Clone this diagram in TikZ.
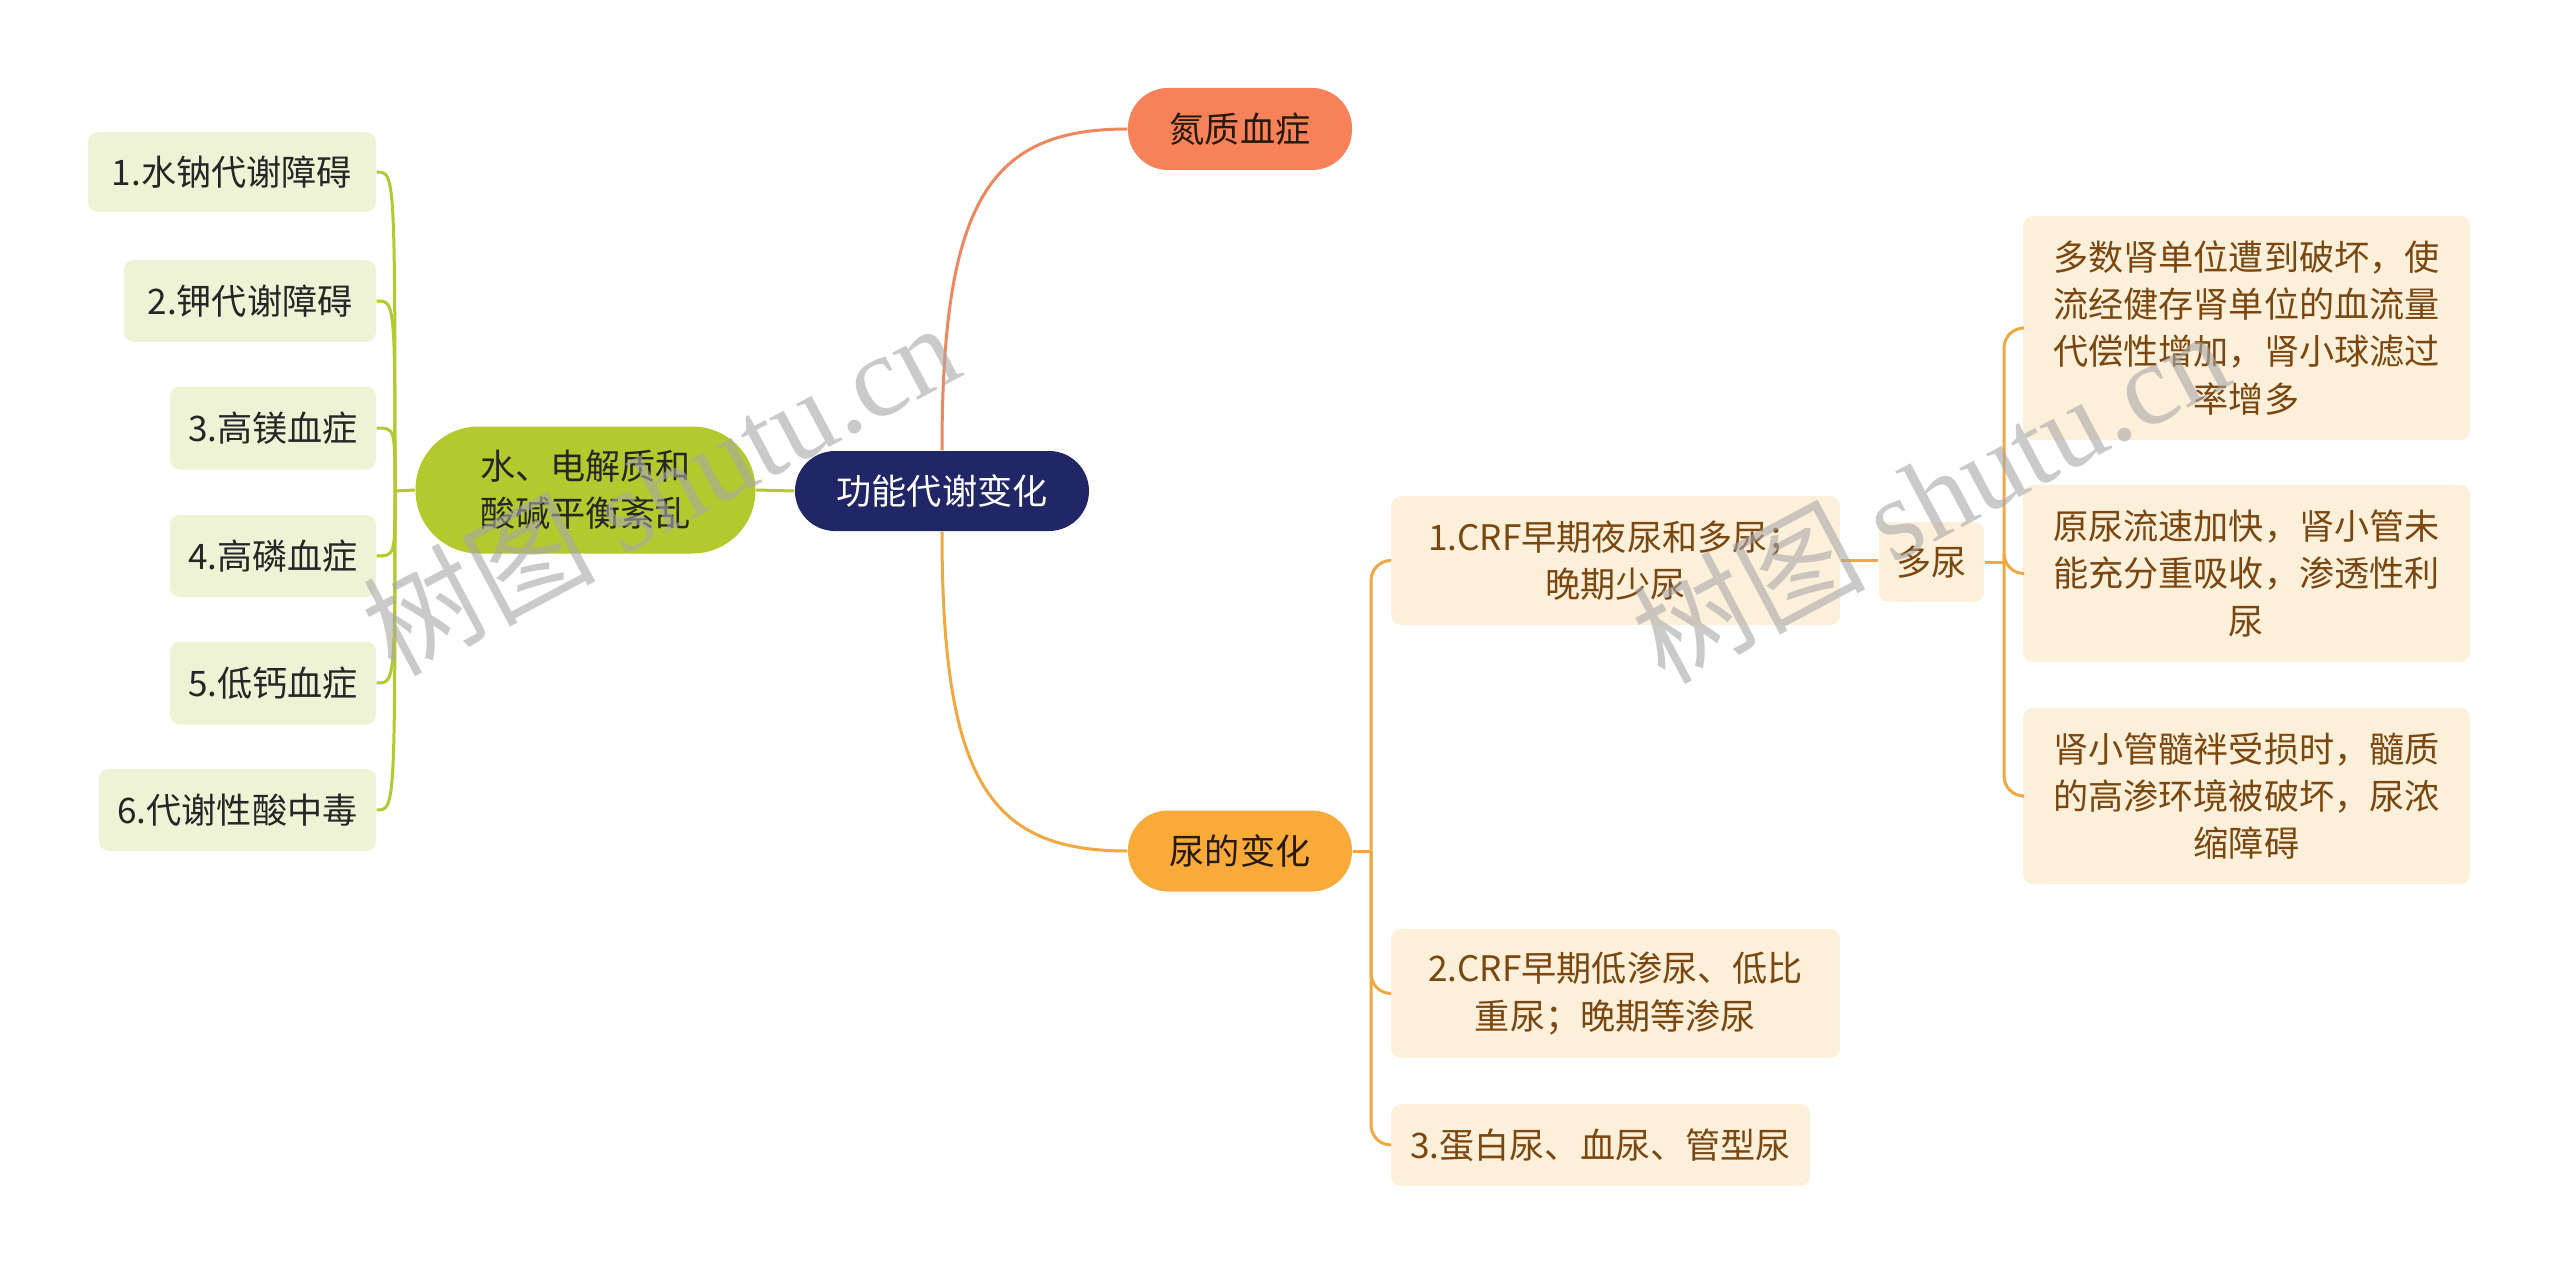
\documentclass[tikz,border=0pt]{standalone}
\usepackage{fontspec}
\setmainfont{Noto Sans CJK SC}
\newfontfamily\wmserif{Liberation Serif}
\usetikzlibrary{calc}
\definecolor{rootc}{HTML}{212766}
\definecolor{nzc}{HTML}{F7825A}
\definecolor{nbc}{HTML}{F9AA38}
\definecolor{grc}{HTML}{B4C92D}
\definecolor{lgc}{HTML}{EEF3D6}
\definecolor{crc}{HTML}{FDF0DA}
\definecolor{brc}{HTML}{7A4710}
\definecolor{obl}{HTML}{F0A940}
\definecolor{onl}{HTML}{EE875E}
\definecolor{wmc}{HTML}{A8A8A8}
\tikzset{
  base/.style={draw=none, inner sep=0pt, align=center, font=\fontsize{10}{13.4}\selectfont},
  pill/.style={base, rounded corners=4mm, minimum height=8mm},
  leafg/.style={base, fill=lgc, rounded corners=1mm, text=black!85, minimum height=8.2mm},
  leafc/.style={base, fill=crc, rounded corners=1mm, text=brc},
  gline/.style={draw=grc, line width=0.3mm},
  oline/.style={draw=obl, line width=0.3mm, rounded corners=2mm},
  nline/.style={draw=onl, line width=0.3mm},
  wm/.style={text=wmc, opacity=0.6, rotate=28, inner sep=0pt}
}
\begin{document}
\begin{tikzpicture}[x=0.1mm, y=-0.1mm]
\useasboundingbox (0,0) rectangle (2560,1272);
\fill[white] (0,0) rectangle (2560,1272);

% central
\node[pill, fill=rootc, text=white, minimum width=29.4mm] (root) at (942,491) {功能代谢变化};
\node[pill, fill=nzc, text=black!80!brown, minimum width=22.4mm, minimum height=8.2mm] (nz) at (1240,129) {氮质血症};
\node[pill, fill=nbc, text=black!80!brown, minimum width=22.4mm, minimum height=8.1mm] (nb) at (1240,851) {尿的变化};
\node[base, fill=grc, rounded corners=6.3mm, minimum width=34mm, minimum height=12.7mm, text=black!85] (gr) at (585.5,490) {水、电解质和\\酸碱平衡紊乱};

% left leaves
\node[leafg, minimum width=28.8mm, minimum height=8mm] (L1) at (232,172) {1.水钠代谢障碍};
\node[leafg, minimum width=25.2mm] (L2) at (250,301) {2.钾代谢障碍};
\node[leafg, minimum width=20.6mm, minimum height=8.3mm] (L3) at (273,428) {3.高镁血症};
\node[leafg, minimum width=20.6mm] (L4) at (273,556) {4.高磷血症};
\node[leafg, minimum width=20.6mm, minimum height=8.3mm] (L5) at (273,683) {5.低钙血症};
\node[leafg, minimum width=27.7mm] (L6) at (237.5,810) {6.代谢性酸中毒};

% right side
\node[leafc, minimum width=44.9mm, minimum height=12.9mm] (c1) at (1615.5,560.5) {1.CRF早期夜尿和多尿；\\晚期少尿};
\node[leafc, minimum width=44.9mm, minimum height=12.9mm] (c2) at (1615.5,993.5) {2.CRF早期低渗尿、低比\\重尿；晚期等渗尿};
\node[leafc, minimum width=41.9mm, minimum height=8.2mm] (c3) at (1600.5,1145) {3.蛋白尿、血尿、管型尿};
\node[leafc, minimum width=10.5mm, minimum height=8mm] (dn) at (1931.5,562) {多尿};
\node[leafc, minimum width=44.7mm, minimum height=22.4mm] (dA) at (2246.5,328) {多数肾单位遭到破坏，使\\流经健存肾单位的血流量\\代偿性增加，肾小球滤过\\率增多};
\node[leafc, minimum width=44.7mm, minimum height=17.7mm] (dB) at (2246.5,573.5) {原尿流速加快，肾小管未\\能充分重吸收，渗透性利\\尿};
\node[leafc, minimum width=44.7mm, minimum height=17.6mm] (dC) at (2246.5,796) {肾小管髓袢受损时，髓质\\的高渗环境被破坏，尿浓\\缩障碍};

% connectors
\draw[gline] (root.west) -- (gr.east);
\coordinate (gt) at (395,491);
\draw[gline] (gr.west) -- (gt);
\foreach \n in {L1,L2,L3,L4,L5,L6}{
  \draw[gline] (gt) .. controls (gt |- \n.east) .. (\n.east);
}
\draw[nline] (root.north) .. controls (942,200) and (990,129) .. (nz.west);
\draw[oline, rounded corners=0pt] (root.south) .. controls (942,782) and (990,851) .. (nb.west);

\coordinate (ot) at (1371,851);
\draw[oline] (nb.east) -- (ot);
\foreach \n in {c1,c2,c3}{
  \draw[oline] (ot) |- (\n.west);
}
\draw[oline] (c1.east) -- (c1.east -| dn.west);
\coordinate (dt) at (2004,562);
\draw[oline] (dn.east) -- (dt);
\foreach \n in {dA,dB,dC}{
  \draw[oline] (dt) |- (\n.west);
}

% watermarks
\node[wm] (wm1) at (660,487) {\fontsize{33}{33}\selectfont 树图 {\wmserif shutu.cn}};
\node[wm] (wm2) at (1930,495) {\fontsize{33}{33}\selectfont 树图 {\wmserif shutu.cn}};
\end{tikzpicture}
\end{document}
